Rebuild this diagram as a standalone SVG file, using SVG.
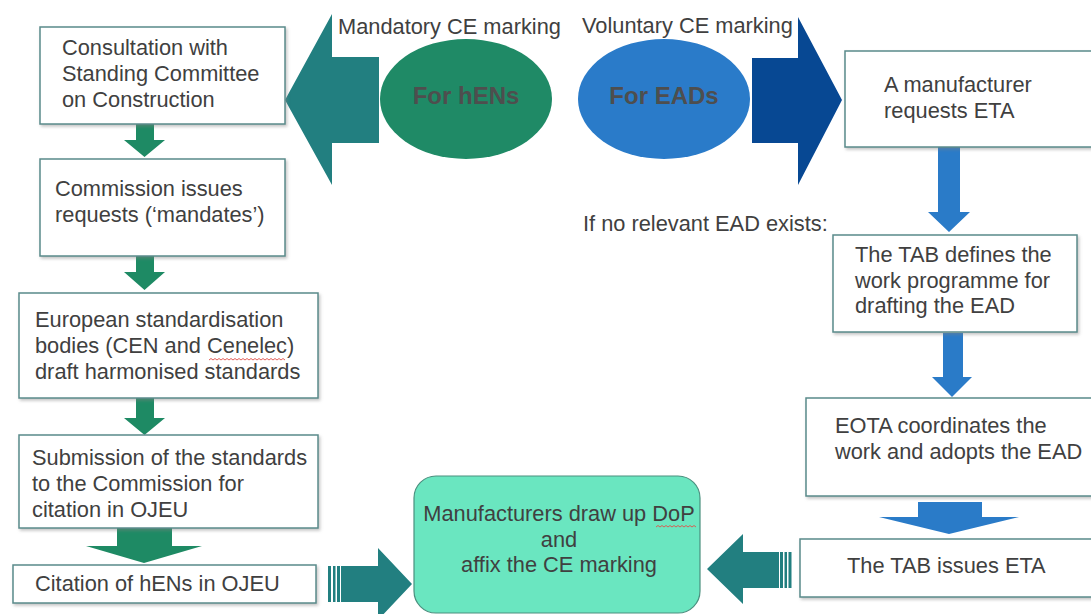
<svg xmlns="http://www.w3.org/2000/svg" width="1091" height="614" viewBox="0 0 1091 614">
  <defs>
    <filter id="shadow" x="-5%" y="-10%" width="115%" height="130%">
      <feDropShadow dx="1.5" dy="2" stdDeviation="1.5" flood-color="#808080" flood-opacity="0.45"/>
    </filter>
    <style>
      .box { fill: #ffffff; stroke: #5a8b8b; stroke-width: 1.5; filter: url(#shadow); }
      .txt { font-family: "Liberation Sans", Arial, sans-serif; font-size: 21.8px; fill: #404040; }
      .mid { text-anchor: middle; }
      .oval-label { font-family: "Liberation Sans", Arial, sans-serif; font-size: 24px; font-weight: bold; fill: #4e4e4e; text-anchor: middle; }
      .green { fill: #1e8a64; }
      .teal { fill: #227f80; }
      .navy { fill: #074893; }
      .blue { fill: #2a7bc8; }
      .squiggle { fill: none; stroke: #e0504a; stroke-width: 0.9; }
    </style>
  </defs>

  <rect width="1091" height="614" fill="#ffffff"/>

  <!-- headings and side note -->
  <text class="txt" x="338" y="34">Mandatory CE marking</text>
  <text class="txt" x="582" y="33">Voluntary CE marking</text>
  <text class="txt" x="583" y="231">If no relevant EAD exists:</text>

  <!-- connectors -->
  <g id="connectors">
    <!-- hEN path, vertical steps -->
    <polygon class="green" points="136,124 154,124 154,140 165,140 144.5,157 124,140 136,140"/>
    <polygon class="green" points="136,256 154,256 154,272 165,272 144.5,290 124,272 136,272"/>
    <polygon class="green" points="136,398 154,398 154,418 165,418 144.5,435 124,418 136,418"/>
    <polygon class="green" points="117,528 172,528 172,546 202,546 144,563 86,546 117,546"/>

    <!-- big block arrows from the two ovals -->
    <polygon class="teal" points="285,100 332,14 332,57 379,57 379,143 332,143 332,185"/>
    <polygon class="navy" points="752,58 798,58 798,17 842,100 798,185 798,143 752,143"/>

    <!-- EAD path, vertical steps -->
    <polygon class="blue" points="938,147 960,147 960,212 970,212 949,232 928,212 938,212"/>
    <polygon class="blue" points="943,333 963,333 963,377 972,377 952,397 932,377 943,377"/>
    <polygon class="blue" points="918,502 982,502 982,517 1019,517 949,534 879,517 918,517"/>

    <!-- striped arrows into the final step -->
    <g class="teal">
      <rect x="328" y="566" width="3" height="36"/>
      <rect x="333" y="566" width="2.5" height="36"/>
      <rect x="337" y="566" width="3" height="36"/>
      <polygon points="341,566 378,566 378,548 412,584 378,620 378,602 341,602"/>
    </g>
    <g class="teal">
      <rect x="788.5" y="552" width="3" height="36"/>
      <rect x="784.5" y="552" width="2.5" height="36"/>
      <rect x="780" y="552" width="3" height="36"/>
      <polygon points="779,552 743,552 743,534 707,569 743,604 743,588 779,588"/>
    </g>
  </g>

  <!-- category ovals -->
  <g id="oval-hens">
    <ellipse cx="466" cy="99" rx="86" ry="60" fill="#1f8a66"/>
    <text class="oval-label" x="466" y="104">For hENs</text>
  </g>
  <g id="oval-eads">
    <ellipse cx="664" cy="99" rx="86" ry="60" fill="#2a7bc9"/>
    <text class="oval-label" x="664" y="104">For EADs</text>
  </g>

  <!-- hEN route -->
  <g id="consultation">
    <rect class="box" x="40" y="27" width="245" height="97"/>
    <text class="txt" x="62" y="55">Consultation with</text>
    <text class="txt" x="62" y="81">Standing Committee</text>
    <text class="txt" x="62" y="107">on Construction</text>
  </g>
  <g id="mandates">
    <rect class="box" x="40" y="159" width="245" height="97"/>
    <text class="txt" x="55" y="196">Commission issues</text>
    <text class="txt" x="55" y="222">requests (‘mandates’)</text>
  </g>
  <g id="drafting">
    <rect class="box" x="19" y="293" width="299" height="105"/>
    <text class="txt" x="35" y="327">European standardisation</text>
    <text class="txt" x="35" y="353">bodies (CEN and Cenelec)</text>
    <text class="txt" x="35" y="379">draft harmonised standards</text>
    <path class="squiggle" d="M209,360 l2,-1.5 l2,1.5 l2,-1.5 l2,1.5 l2,-1.5 l2,1.5 l2,-1.5 l2,1.5 l2,-1.5 l2,1.5 l2,-1.5 l2,1.5 l2,-1.5 l2,1.5 l2,-1.5 l2,1.5 l2,-1.5 l2,1.5 l2,-1.5 l2,1.5 l2,-1.5 l2,1.5 l2,-1.5 l2,1.5 l2,-1.5 l2,1.5 l2,-1.5 l2,1.5 l2,-1.5 l2,1.5 l2,-1.5 l2,1.5 l2,-1.5 l2,1.5 l2,-1.5 l2,1.5 l2,-1.5 l2,1.5"/>
  </g>
  <g id="submission">
    <rect class="box" x="19" y="435" width="299" height="93"/>
    <text class="txt" x="32" y="465">Submission of the standards</text>
    <text class="txt" x="32" y="491">to the Commission for</text>
    <text class="txt" x="32" y="517">citation in OJEU</text>
  </g>
  <g id="citation">
    <rect class="box" x="13" y="565" width="303" height="38"/>
    <text class="txt" x="35" y="591">Citation of hENs in OJEU</text>
  </g>

  <!-- EAD route -->
  <g id="request-eta">
    <rect class="box" x="845" y="51" width="250" height="96"/>
    <text class="txt" x="884" y="92">A manufacturer</text>
    <text class="txt" x="884" y="118">requests ETA</text>
  </g>
  <g id="work-programme">
    <rect class="box" x="833" y="235" width="244" height="97"/>
    <text class="txt" x="855" y="262">The TAB defines the</text>
    <text class="txt" x="855" y="288">work programme for</text>
    <text class="txt" x="855" y="313">drafting the EAD</text>
  </g>
  <g id="eota">
    <rect class="box" x="806" y="398" width="289" height="98"/>
    <text class="txt" x="835" y="433">EOTA coordinates the</text>
    <text class="txt" x="835" y="459">work and adopts the EAD</text>
  </g>
  <g id="issue-eta">
    <rect class="box" x="800" y="539" width="295" height="58"/>
    <text class="txt" x="847" y="573">The TAB issues ETA</text>
  </g>

  <!-- common final step -->
  <g id="declaration">
    <rect x="414" y="476" width="286" height="137" rx="22" ry="22" fill="#6ae6c0" stroke="#4a8f7e" stroke-width="1.2"/>
    <text class="txt mid" x="559" y="521">Manufacturers draw up DoP</text>
    <text class="txt mid" x="559" y="547">and</text>
    <text class="txt mid" x="559" y="572">affix the CE marking</text>
    <path class="squiggle" d="M656,527 l2,-1.5 l2,1.5 l2,-1.5 l2,1.5 l2,-1.5 l2,1.5 l2,-1.5 l2,1.5 l2,-1.5 l2,1.5 l2,-1.5 l2,1.5 l2,-1.5 l2,1.5 l2,-1.5 l2,1.5 l2,-1.5 l2,1.5 l2,-1.5 l2,1.5"/>
  </g>
</svg>
